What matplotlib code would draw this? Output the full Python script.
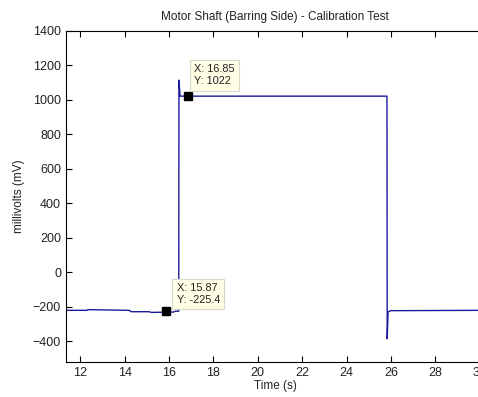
import matplotlib.pyplot as plt

plt.rcParams['font.family'] = ['Liberation Sans', 'DejaVu Sans']

# signal
t = [11.36, 12.3, 12.35, 14.2, 14.3, 15.1, 15.2, 16.2, 16.3, 16.44, 16.45, 16.5, 25.82, 25.83, 25.87, 26.0, 30.2]
mv = [-220, -220, -216, -220, -228, -228, -232, -230, -225, -225, 1115, 1022, 1022, -385, -228, -222, -220]

# data tips
tip_x = [15.87, 16.85]
tip_y = [-225.4, 1022]
tip_text = ['X: 15.87\nY: -225.4', 'X: 16.85\nY: 1022']

yticks = [-400, -200, 0, 200, 400, 600, 800, 1000, 1200, 1400]
xticks = [12, 14, 16, 18, 20, 22, 24, 26, 28, 30]

fig = plt.figure(figsize=(4.78, 3.97), dpi=100)
ax = fig.add_axes([0.138, 0.088, 0.875, 0.834])

ax.plot(t, mv, color='#1a1a9c', lw=1.0)
ax.plot(tip_x, tip_y, 's', color='black', ms=6)

offsets = [(7.5, 4.6), (4.5, 7)]
for x, y, s, off in zip(tip_x, tip_y, tip_text, offsets):
    ax.annotate(s, (x, y), xytext=off, textcoords='offset points', fontsize=7.8,
                va='bottom', ha='left', color='#222222', linespacing=1.25,
                bbox=dict(boxstyle='square,pad=0.4', fc='#ffffe6', ec='#d8d8c8', lw=0.8))

ax.set_xlim(11.36, 30.2)
ax.set_ylim(-520, 1400)
ax.set_xticks(xticks)
ax.set_yticks(yticks)
ax.tick_params(direction='in', top=True, right=True, labelsize=9, length=4,
               labelcolor='#222222')
ax.set_xlabel('Time (s)', fontsize=8.5, labelpad=1, color='#222222')
ax.set_ylabel('millivolts (mV)', fontsize=8.5, labelpad=6, color='#222222')
ax.set_title('Motor Shaft (Barring Side) - Calibration Test', fontsize=8.5, pad=8,
             color='#222222')

fig.savefig('out.png', dpi=100)
